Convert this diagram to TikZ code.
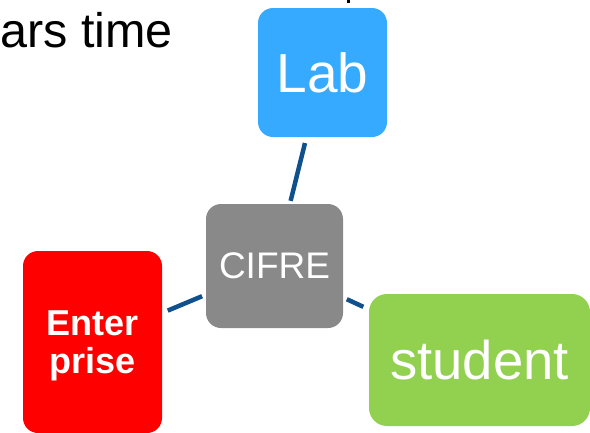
\documentclass[tikz,border=0pt]{standalone}
\usepackage{fontspec}
\setmainfont{Liberation Sans}
\definecolor{labblue}{RGB}{53,170,255}
\definecolor{cifregray}{RGB}{137,137,137}
\definecolor{entred}{RGB}{255,0,0}
\definecolor{studgreen}{RGB}{146,208,80}
\definecolor{linkblue}{RGB}{16,80,140}
\begin{document}
\begin{tikzpicture}[x=1pt,y=-1pt,
  box/.style={rounded corners=15pt, inner sep=0pt, text=white, align=center},
  link/.style={draw=linkblue, line width=4.5pt}]
\useasboundingbox (0,0) rectangle (590,432);
% title fragment
\node[anchor=base west, inner sep=0pt, font=\fontsize{48.5}{48.5}\selectfont] (title) at (0,47) {ars time};
\fill (347,0) rectangle (350,3);
% boxes
\node[box, fill=labblue, minimum width=129pt, minimum height=129pt, font=\fontsize{55}{55}\selectfont] (lab) at (322.5,72.5) {Lab};
\node[box, fill=cifregray, minimum width=137pt, minimum height=124pt, font=\fontsize{37}{37}\selectfont] (cifre) at (274.5,266) {CIFRE};
\node[box, fill=entred, minimum width=139pt, minimum height=182pt, text depth=0pt, font=\fontsize{36}{38}\selectfont\bfseries] (ent) at (92.5,342) {Enter\\prise};
\node[box, rounded corners=18pt, fill=studgreen, minimum width=221pt, minimum height=132pt, font=\fontsize{54.5}{54.5}\selectfont] (stud) at (479.5,360) {student};
% connectors
\draw[link, shorten <=6pt, shorten >=3pt] (lab) -- (cifre);
\draw[link, shorten <=4pt, shorten >=6pt] (cifre) -- (ent);
\draw[link, shorten <=4pt, shorten >=6pt] (cifre) -- (stud);
\end{tikzpicture}
\end{document}
